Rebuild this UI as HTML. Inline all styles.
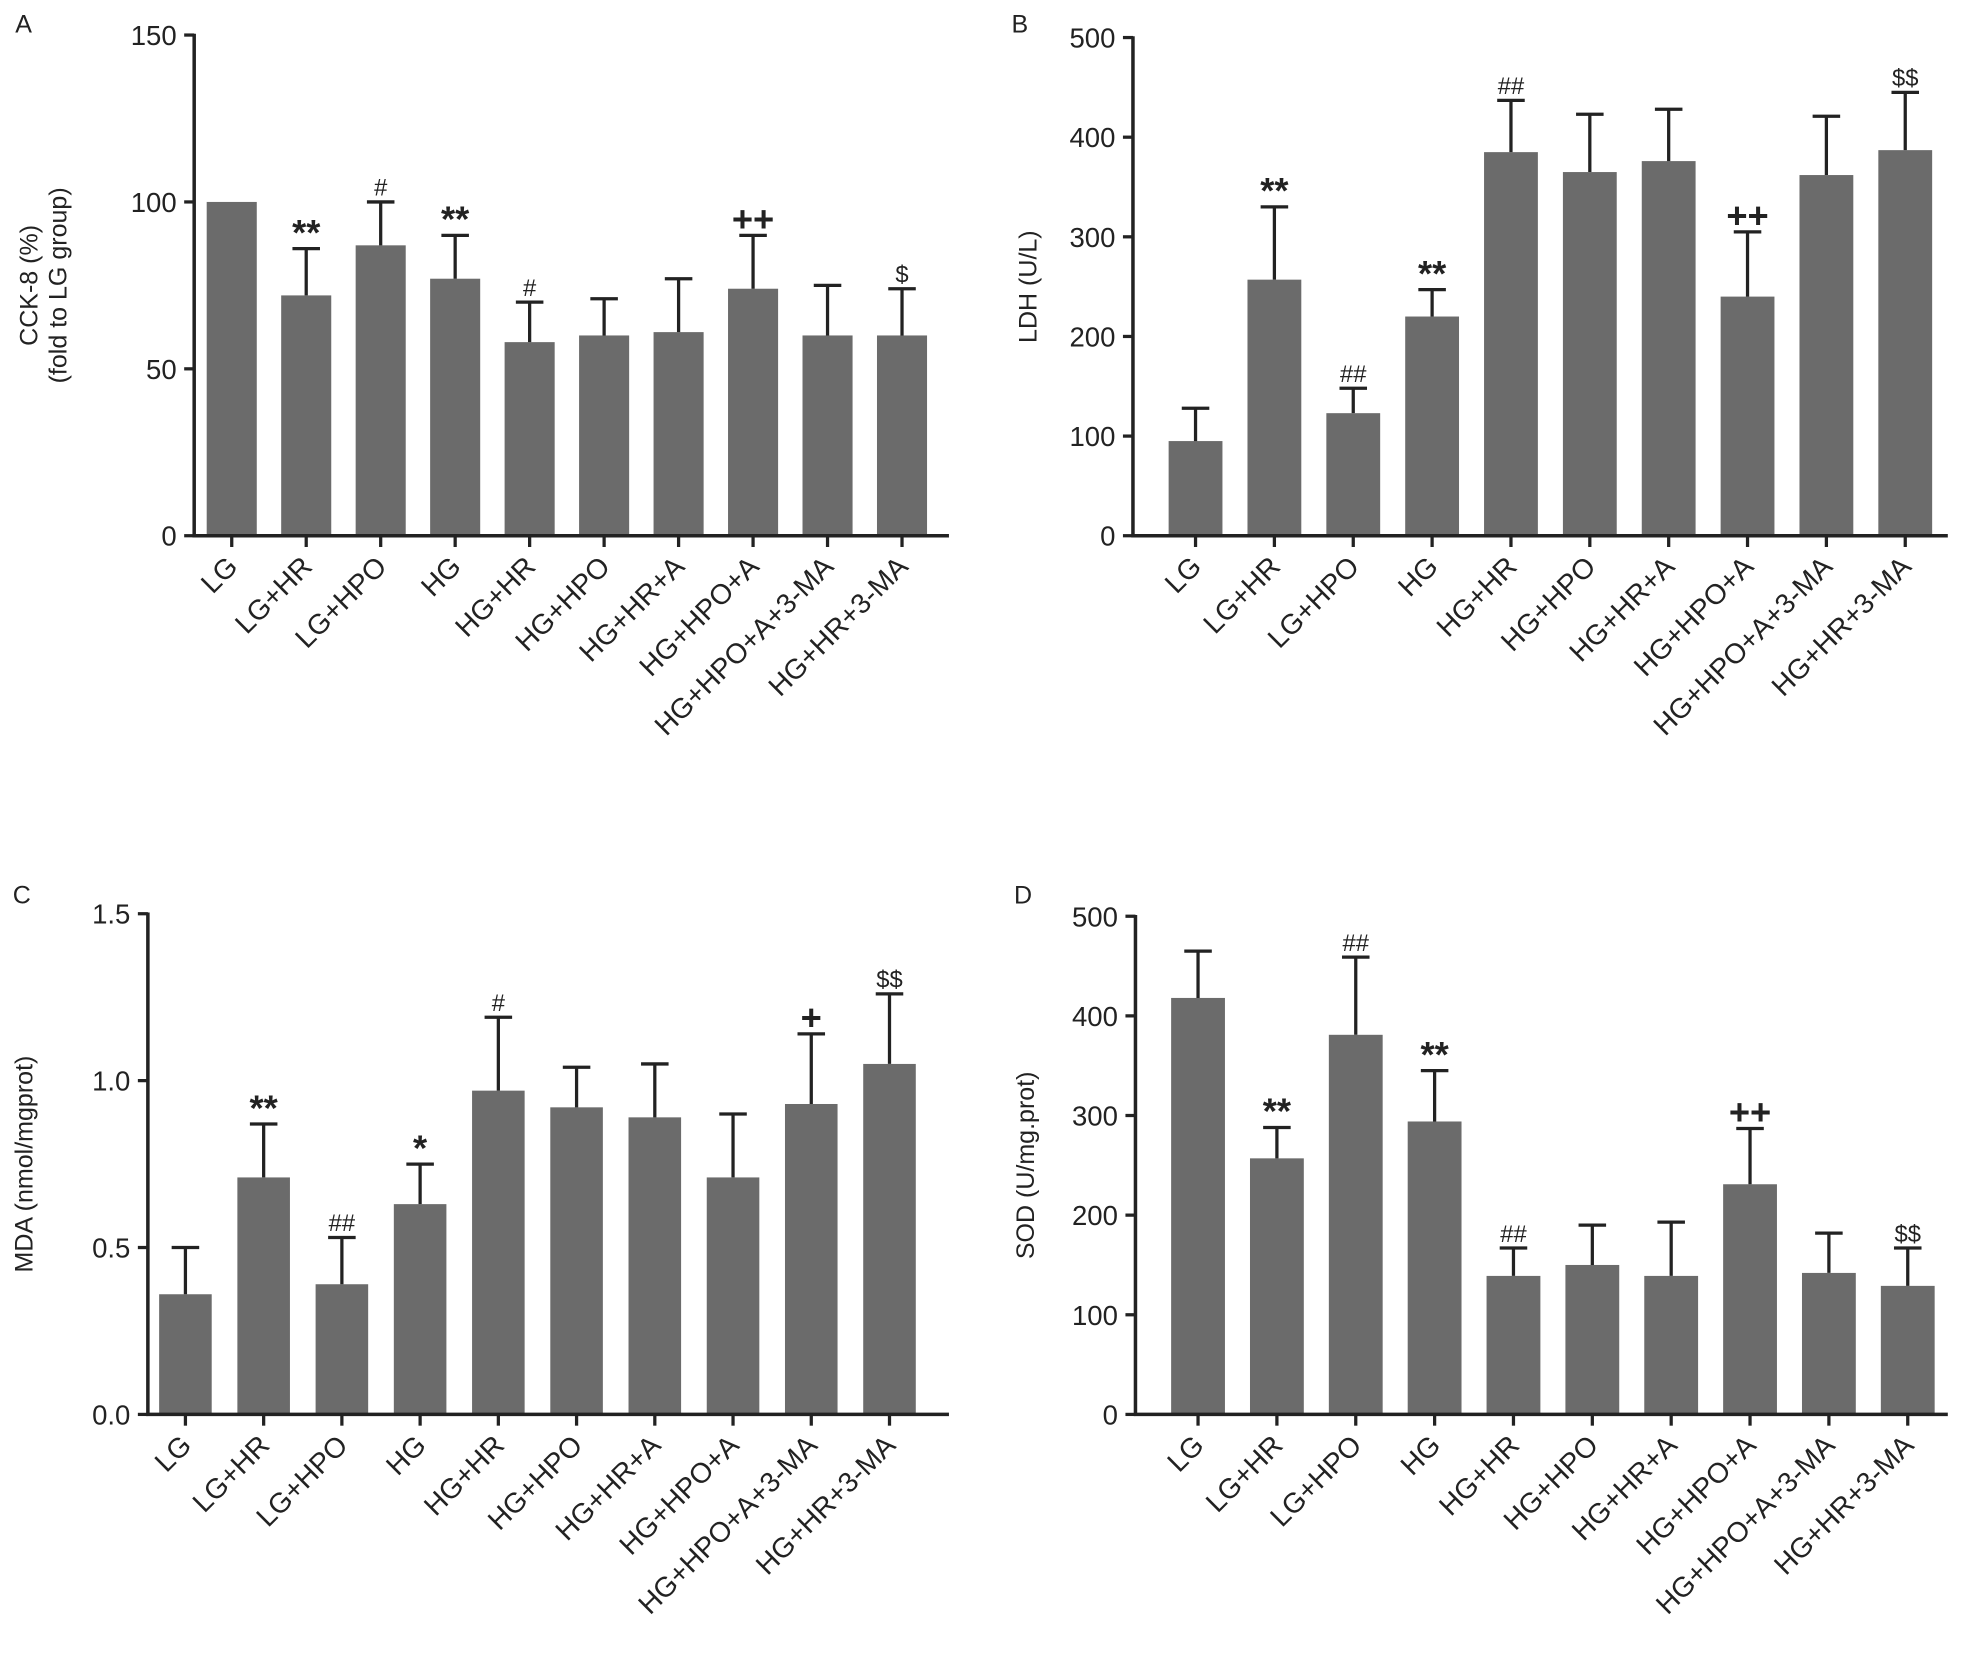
<!DOCTYPE html>
<html><head><meta charset="utf-8"><style>
html,body{margin:0;padding:0;background:#fff}
svg{display:block}
text{font-family:"Liberation Sans",Arial,sans-serif;fill:#222}
</style></head><body>
<svg id="fig" width="1963" height="1666" viewBox="0 0 1568 1331" xmlns="http://www.w3.org/2000/svg"></svg>
<script>
const categories=["LG","LG+HR","LG+HPO","HG","HG+HR","HG+HPO","HG+HR+A","HG+HPO+A","HG+HPO+A+3-MA","HG+HR+3-MA"];
const valuesA=[100,72,87,77,58,60,61,74,60,60];
const errorsA=[0,14,13,13,12,11,16,16,15,14];
const annotA=["","**","#","**","#","","","++","","$"];
const ticksA=[0,50,100,150];
const valuesB=[95,257,123,220,385,365,376,240,362,387];
const errorsB=[33,73,25,27,52,58,52,65,59,58];
const annotB=["","**","##","**","##","","","++","","$$"];
const ticksB=[0,100,200,300,400,500];
const valuesC=[0.36,0.71,0.39,0.63,0.97,0.92,0.89,0.71,0.93,1.05];
const errorsC=[0.14,0.16,0.14,0.12,0.22,0.12,0.16,0.19,0.21,0.21];
const annotC=["","**","##","*","#","","","","+","$$"];
const ticksC=[0,0.5,1.0,1.5];
const tickLabelsC=["0.0","0.5","1.0","1.5"];
const valuesD=[418,257,381,294,139,150,139,231,142,129];
const errorsD=[47,31,78,51,28,40,54,56,40,38];
const annotD=["","**","##","**","##","","","++","","$$"];
const ticksD=[0,100,200,300,400,500];

const svg=document.getElementById('fig');
const NS='http://www.w3.org/2000/svg';
function mk(tag,attrs,parent){const e=document.createElementNS(NS,tag);for(const k in attrs)e.setAttribute(k,attrs[k]);(parent||svg).appendChild(e);return e;}

function panel(p){
  const g=mk('g',{});
  
  
  const yMax=p.ticks[p.ticks.length-1];
  const y=v=>p.y0-(v/yMax)*(p.y0-p.yTop);
  const x=i=>p.x0+p.first+i*p.step;
  const lt=mk('text',{x:p.letterX,y:p.letterY,'font-size':20},g);lt.textContent=p.id;
  
  
  p.values.forEach((v,i)=>{
    const cx=x(i);
    const r=mk('rect',{x:cx-p.bw/2,y:y(v),width:p.bw,height:p.y0-y(v),fill:'#6b6b6b'},g);
    
    
    if(p.errors[i]>0){
      const et=y(v+p.errors[i]);
      const eb=mk('path',{d:`M${cx},${y(v)}V${et}M${cx-11},${et}H${cx+11}`,stroke:'#222','stroke-width':2.6,fill:'none'},g);
      
      
    }
    const a=p.annot[i];
    if(a){
      const et=y(v+p.errors[i]);
      const big=a.indexOf('*')>=0||a.indexOf('+')>=0;
      const t=mk('text',{x:cx,y:et-(big?3:5),'text-anchor':'middle','font-size':big?29:19,'font-weight':big?'bold':'normal',fill:'#333'},g);
      t.textContent=a;
      
      
    }
    mk('line',{x1:cx,y1:p.y0,x2:cx,y2:p.y0+9,stroke:'#222','stroke-width':2.6},g);
    const lb=mk('text',{x:cx+6,y:p.y0+26,'text-anchor':'end','font-size':22.5,transform:`rotate(-45 ${cx+6} ${p.y0+26})`},g);
    lb.textContent=categories[i];
    
    
  });
  const ax=mk('path',{d:`M${p.x0},${p.yTop-1}V${p.y0}H${p.xEnd}`,stroke:'#222','stroke-width':2.8,fill:'none'},g);
  
  
  p.ticks.forEach((t,k)=>{
    mk('line',{x1:p.x0-8,y1:y(t),x2:p.x0,y2:y(t),stroke:'#222','stroke-width':2.6},g);
    const tl=mk('text',{x:p.x0-14,y:y(t)+8,'text-anchor':'end','font-size':22},g);
    tl.textContent=p.tickLabels?p.tickLabels[k]:String(t);
    
    
  });
  p.title.forEach((line,k)=>{
    const tx=p.titleX+k*23, ty=(p.yTop+p.y0)/2;
    const tt=mk('text',{x:tx,y:ty,'text-anchor':'middle','font-size':20,transform:`rotate(-90 ${tx} ${ty})`},g);
    tt.textContent=line;
    
    
  });
}
panel({id:'A',values:valuesA,errors:errorsA,annot:annotA,ticks:ticksA,x0:155,xEnd:758,yTop:28,y0:428,first:30,step:59.5,bw:40,title:['CCK-8 (%)','(fold to LG group)'],titleX:30,letterX:12,letterY:26});
panel({id:'B',values:valuesB,errors:errorsB,annot:annotB,ticks:ticksB,x0:905,xEnd:1556,yTop:30,y0:428,first:50,step:63,bw:43,title:['LDH (U/L)'],titleX:828,letterX:808,letterY:26});
panel({id:'C',values:valuesC,errors:errorsC,annot:annotC,ticks:ticksC,tickLabels:tickLabelsC,x0:118,xEnd:758,yTop:730,y0:1130,first:30,step:62.5,bw:42,title:['MDA (nmol/mgprot)'],titleX:26,letterX:10,letterY:722});
panel({id:'D',values:valuesD,errors:errorsD,annot:annotD,ticks:ticksD,x0:907,xEnd:1556,yTop:732,y0:1130,first:50,step:63,bw:43,title:['SOD (U/mg.prot)'],titleX:826,letterX:810,letterY:722});
</script>
</body></html>
